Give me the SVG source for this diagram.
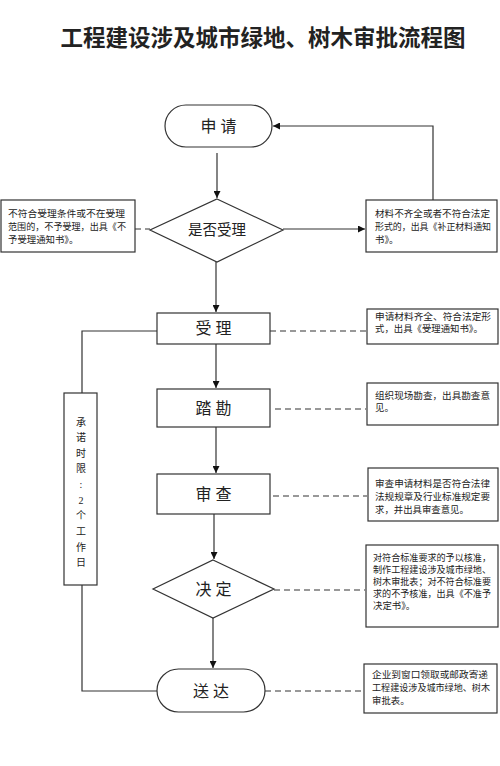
<svg xmlns="http://www.w3.org/2000/svg" width="500" height="766" viewBox="0 0 500 766">
<style>
.sh{fill:#fff;stroke:#333;stroke-width:1.2}
.ln{fill:none;stroke:#333;stroke-width:1.2}
.dl{fill:none;stroke:#333;stroke-width:1.2;stroke-dasharray:6 4}
.t{font-family:"Liberation Serif","Noto Sans CJK SC",serif;fill:#222}
.m{font-size:16px;text-anchor:middle}
.s{font-size:9.4px}
.v{font-size:10px;text-anchor:middle}
</style>
<defs>
<marker id="ah" viewBox="0 0 10 10" refX="10" refY="5" markerWidth="7" markerHeight="7" markerUnits="userSpaceOnUse" orient="auto">
<path d="M0,0 L10,5 L0,10 z" fill="#111"/>
</marker>
</defs>
<rect width="500" height="766" fill="#fff"/>
<text class="t" x="263" y="46" font-size="22.5" font-weight="bold" text-anchor="middle">工程建设涉及城市绿地、树木审批流程图</text>

<g id="connectors">
<line class="ln" x1="217" y1="153" x2="217" y2="198" marker-end="url(#ah)"/>
<line class="ln" x1="283" y1="229" x2="365" y2="229" marker-end="url(#ah)"/>
<polyline class="ln" points="433,200 433,126 273,126" marker-end="url(#ah)"/>
<line class="dl" x1="135" y1="229" x2="150" y2="229"/>
<line class="ln" x1="216" y1="262" x2="216" y2="312" marker-end="url(#ah)"/>
<line class="dl" x1="270" y1="331" x2="366" y2="331"/>
<polyline class="ln" points="157,331 82,331 82,393"/>
<polyline class="ln" points="82,585 82,691 157,691"/>
<line class="ln" x1="216" y1="344" x2="216" y2="388" marker-end="url(#ah)"/>
<line class="dl" x1="275" y1="409" x2="366" y2="409"/>
<line class="ln" x1="216" y1="427" x2="216" y2="473" marker-end="url(#ah)"/>
<line class="dl" x1="273" y1="496" x2="367" y2="496"/>
<line class="ln" x1="214" y1="514" x2="214" y2="559" marker-end="url(#ah)"/>
<line class="dl" x1="274" y1="590" x2="365" y2="590"/>
<line class="ln" x1="213" y1="618" x2="213" y2="668" marker-end="url(#ah)"/>
<line class="dl" x1="265" y1="691" x2="363" y2="691"/>
</g>

<g id="n-apply">
<rect class="sh" x="165" y="105" width="107" height="42" rx="21"/>
<text class="t m" x="218.5" y="132">申 请</text>
</g>
<g id="n-accept-q">
<polygon class="sh" points="217,199 283,230 217,262 150,230"/>
<text class="t" x="217" y="235" font-size="14.5" text-anchor="middle">是否受理</text>
</g>
<g id="n-reject">
<rect class="sh" x="1" y="200" width="134" height="52"/>
<text class="t s" x="8" y="217" textLength="117" lengthAdjust="spacingAndGlyphs">不符合受理条件或不在受理</text>
<text class="t s" x="8" y="230" textLength="118" lengthAdjust="spacingAndGlyphs">范围的，不予受理，出具《不</text>
<text class="t s" x="8" y="243">予受理通知书》。</text>
</g>
<g id="n-supplement">
<rect class="sh" x="366" y="200" width="131" height="52"/>
<text class="t s" x="375" y="217" textLength="115" lengthAdjust="spacingAndGlyphs">材料不齐全或者不符合法定</text>
<text class="t s" x="375" y="230" textLength="116" lengthAdjust="spacingAndGlyphs">形式的，出具《补正材料通知</text>
<text class="t s" x="375" y="243">书》。</text>
</g>
<g id="n-accept">
<rect class="sh" x="157" y="313" width="113" height="31"/>
<text class="t m" x="213.5" y="334">受 理</text>
</g>
<g id="n-accept-note">
<rect class="sh" x="367" y="309" width="131" height="35"/>
<text class="t s" x="375" y="320" textLength="116" lengthAdjust="spacingAndGlyphs">申请材料齐全、符合法定形</text>
<text class="t s" x="375" y="332">式，出具《受理通知书》。</text>
</g>
<g id="n-survey">
<rect class="sh" x="157" y="389" width="113" height="38"/>
<text class="t m" x="213.5" y="414">踏 勘</text>
</g>
<g id="n-survey-note">
<rect class="sh" x="367" y="383" width="131" height="42"/>
<text class="t s" x="375" y="399" textLength="115" lengthAdjust="spacingAndGlyphs">组织现场勘查，出具勘查意</text>
<text class="t s" x="375" y="411">见。</text>
</g>
<g id="n-review">
<rect class="sh" x="157" y="474" width="113" height="40"/>
<text class="t m" x="213.5" y="500">审 查</text>
</g>
<g id="n-review-note">
<rect class="sh" x="368" y="468" width="130" height="53"/>
<text class="t s" x="375" y="487" textLength="115" lengthAdjust="spacingAndGlyphs">审查申请材料是否符合法律</text>
<text class="t s" x="375" y="500" textLength="115" lengthAdjust="spacingAndGlyphs">法规规章及行业标准规定要</text>
<text class="t s" x="375" y="513">求，并出具审查意见。</text>
</g>
<g id="n-decide">
<polygon class="sh" points="213,560 274,589 213,618 153,589"/>
<text class="t m" x="213.5" y="595">决 定</text>
</g>
<g id="n-decide-note">
<rect class="sh" x="366" y="545" width="132" height="82"/>
<text class="t s" x="373" y="561" textLength="118" lengthAdjust="spacingAndGlyphs">对符合标准要求的予以核准，</text>
<text class="t s" x="373" y="573" textLength="118" lengthAdjust="spacingAndGlyphs">制作工程建设涉及城市绿地、</text>
<text class="t s" x="373" y="585" textLength="118" lengthAdjust="spacingAndGlyphs">树木审批表；对不符合标准要</text>
<text class="t s" x="373" y="597" textLength="118" lengthAdjust="spacingAndGlyphs">求的不予核准，出具《不准予</text>
<text class="t s" x="373" y="609">决定书》。</text>
</g>
<g id="n-deliver">
<rect class="sh" x="157" y="669" width="108" height="43" rx="21.5"/>
<text class="t m" x="211" y="697">送 达</text>
</g>
<g id="n-deliver-note">
<rect class="sh" x="364" y="664" width="133" height="49"/>
<text class="t s" x="372" y="678" textLength="116" lengthAdjust="spacingAndGlyphs">企业到窗口领取或邮政寄递</text>
<text class="t s" x="372" y="691" textLength="118" lengthAdjust="spacingAndGlyphs">工程建设涉及城市绿地、树木</text>
<text class="t s" x="372" y="704">审批表。</text>
</g>
<g id="n-limit">
<rect class="sh" x="64" y="393" width="33" height="192"/>
<text class="t v" x="81" y="426">承</text>
<text class="t v" x="81" y="441">诺</text>
<text class="t v" x="81" y="457">时</text>
<text class="t v" x="81" y="472">限</text>
<text class="t v" x="81" y="488">:</text>
<text class="t v" x="81" y="504">2</text>
<text class="t v" x="81" y="519">个</text>
<text class="t v" x="81" y="535">工</text>
<text class="t v" x="81" y="551">作</text>
<text class="t v" x="81" y="566">日</text>
</g>
</svg>
